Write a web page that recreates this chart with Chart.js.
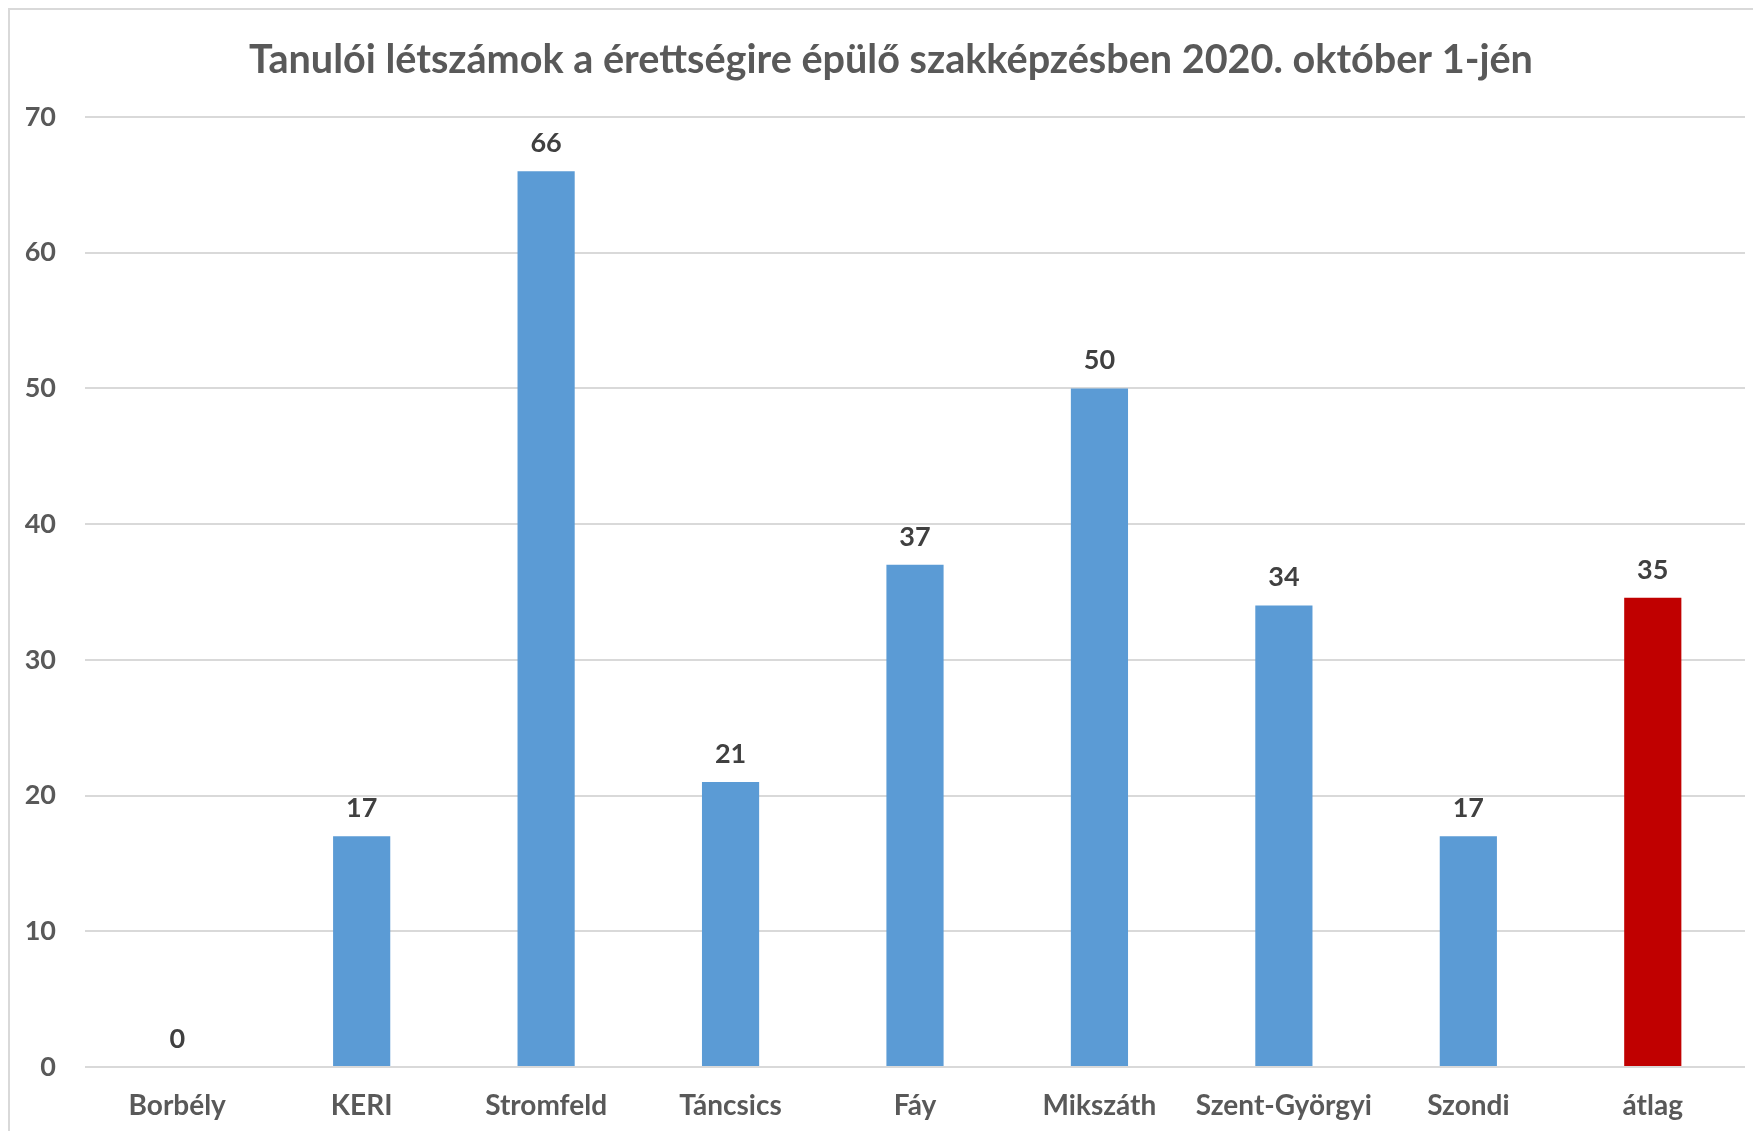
<!DOCTYPE html>
<html>
<head>
<meta charset="utf-8">
<script src="https://cdn.jsdelivr.net/npm/chart.js@4"></script>
<style>
  body { margin: 0; background: #fff; overflow: hidden; }
  #frame { position: absolute; left: 8px; top: 8px; width: 1770px; height: 1150px; border: 2px solid #d9d9d9; }
  #chart { position: absolute; left: 0; top: 0; }
</style>
</head>
<body>
<div id="frame"></div>
<canvas id="chart" width="1753" height="1131"></canvas>
<script>
// Data
const titleText = 'Tanulói létszámok a érettségire épülő szakképzésben 2020. október 1-jén';
const schools = ['Borbély', 'KERI', 'Stromfeld', 'Táncsics', 'Fáy', 'Mikszáth', 'Szent-Györgyi', 'Szondi', 'átlag'];
const students = [0, 17, 66, 21, 37, 50, 34, 17, 34.57];
const barColors = ['#5B9BD5', '#5B9BD5', '#5B9BD5', '#5B9BD5', '#5B9BD5', '#5B9BD5', '#5B9BD5', '#5B9BD5', '#C00000'];

const FONT = 'Lato, "Open Sans", sans-serif';

// Title drawn by hand so it sits where the reference has it
const titlePlugin = {
  id: 'titleText',
  afterDraw(chart) {
    const ctx = chart.ctx;
    ctx.save();
    ctx.font = 'bold 39.6px ' + FONT;
    ctx.fillStyle = '#595959';
    ctx.textAlign = 'center';
    ctx.textBaseline = 'middle';
    ctx.fillText(titleText, 891, 60);
    ctx.restore();
  }
};

// Value labels above the bars
const valueLabels = {
  id: 'valueLabels',
  afterDatasetsDraw(chart) {
    const ctx = chart.ctx;
    const meta = chart.getDatasetMeta(0);
    ctx.save();
    ctx.font = 'bold 27px ' + FONT;
    ctx.fillStyle = '#404040';
    ctx.textAlign = 'center';
    ctx.textBaseline = 'middle';
    meta.data.forEach((bar, i) => {
      ctx.fillText(String(Math.round(students[i])), bar.x, bar.y - 28);
    });
    ctx.restore();
  }
};

new Chart(document.getElementById('chart'), {
  type: 'bar',
  data: {
    labels: schools,
    datasets: [{
      data: students,
      backgroundColor: barColors,
      categoryPercentage: 1,
      barPercentage: 0.31
    }]
  },
  options: {
    responsive: false,
    animation: false,
    layout: { padding: { top: 117, right: 8, left: 0, bottom: 0 } },
    plugins: {
      legend: { display: false },
      title: { display: false },
      tooltip: { enabled: false }
    },
    scales: {
      x: {
        grid: { display: false },
        border: { display: false },
        ticks: {
          color: '#595959',
          font: { family: FONT, size: 28, weight: 'bold' },
          padding: 14,
          maxRotation: 0
        },
        afterFit(scale) { scale.height = 64; }
      },
      y: {
        min: 0,
        max: 70,
        ticks: {
          stepSize: 10,
          color: '#595959',
          font: { family: FONT, size: 27, weight: 'bold' },
          padding: 29
        },
        grid: { color: '#d9d9d9', lineWidth: 2, drawTicks: false },
        border: { display: false },
        afterFit(scale) { scale.width = 85; }
      }
    }
  },
  plugins: [titlePlugin, valueLabels]
});
</script>
</body>
</html>
